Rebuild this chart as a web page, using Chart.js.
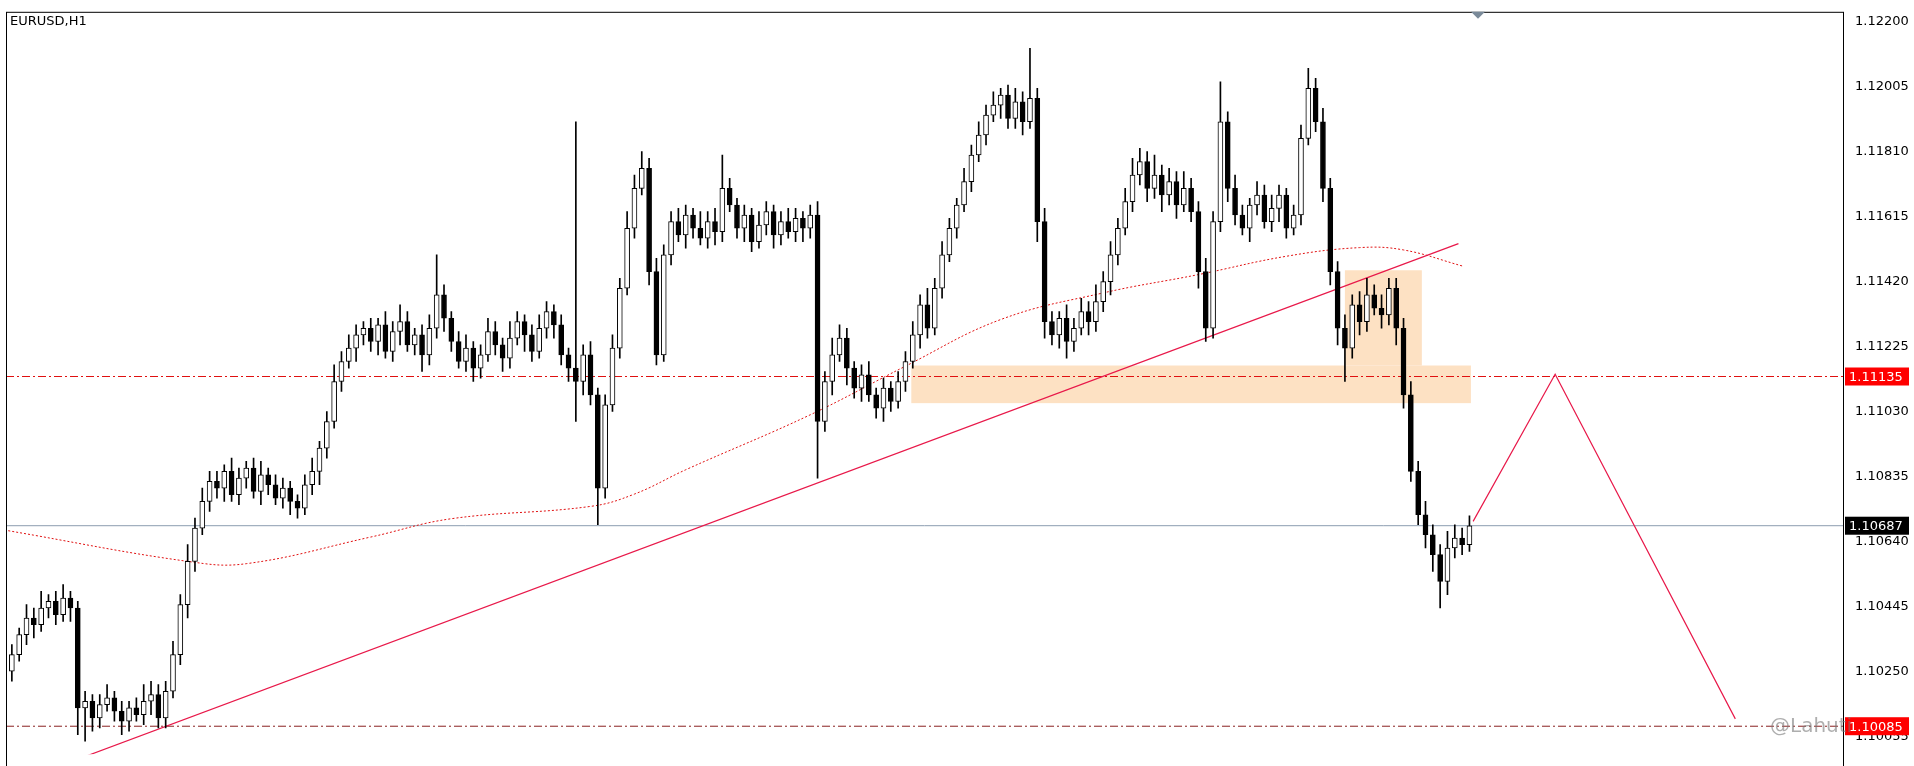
<!DOCTYPE html>
<html>
<head>
<meta charset="utf-8">
<script src="https://cdn.jsdelivr.net/npm/chart.js@4/dist/chart.umd.min.js"></script>
<style>
  html, body { margin: 0; padding: 0; background: #fff; }
  #wrap { width: 1914px; height: 766px; }
</style>
</head>
<body>
<div id="wrap"><canvas id="c"></canvas></div>
<script>
// EURUSD H1 closes, open = previous close
const firstOpen = 1.1025;
const closes = [
  1.1030,1.1036,1.1041,1.1039,1.1044,1.1046,1.1042,1.1047,1.1044,
  1.1014,1.1016,1.1011,1.1015,1.1017,1.1013,1.1010,1.1014,1.1012,1.1016,1.1018,1.1011,1.1019,
  1.1030,1.1045,1.1058,1.1068,1.1076,1.1082,
  1.1080,1.1085,1.1078,1.1083,1.1086,1.1079,1.1084,1.1081,1.1077,1.1080,1.1076,1.1074,
  1.1081,1.1085,1.1092,1.1100,1.1112,1.1118,1.1122,1.1126,1.1128,
  1.1124,1.1129,1.1121,1.1127,1.1130,1.1123,1.1126,1.1120,1.1128,1.1138,1.1131,1.1124,1.1118,1.1122,
  1.1116,1.1120,1.1127,1.1123,1.1119,1.1125,1.1130,1.1126,1.1121,1.1128,1.1133,1.1129,1.1120,1.1116,
  1.1112,
  1.1120,1.1108,1.1080,1.1105,1.1122,
  1.1140,1.1158,1.1170,1.1176,
  1.1145,1.1120,1.1150,
  1.1160,1.1156,1.1162,1.1158,1.1155,1.1160,1.1157,1.1170,1.1165,1.1158,
  1.1162,1.1154,1.1159,1.1163,1.1156,1.1160,1.1157,1.1161,1.1158,1.1162,
  1.1100,
  1.1112,1.1120,1.1125,1.1116,1.1110,1.1114,1.1108,1.1104,1.1110,1.1106,1.1112,
  1.1118,1.1126,1.1135,1.1128,1.1140,1.1150,1.1158,1.1165,1.1172,1.1180,1.1186,
  1.1192,1.1195,1.1198,1.1191,1.1196,1.1190,1.1197,
  1.1160,1.1130,
  1.1126,1.1131,1.1124,1.1128,1.1133,1.1130,1.1136,
  1.1142,1.1150,1.1158,1.1166,1.1174,
  1.1178,1.1170,1.1174,1.1168,1.1172,1.1165,1.1170,1.1163,
  1.1145,1.1128,
  1.1160,1.1190,
  1.1170,1.1162,1.1158,1.1165,1.1168,1.1160,1.1164,1.1168,1.1158,1.1162,
  1.1185,1.1200,
  1.1190,1.1170,1.1145,
  1.1128,1.1122,1.1135,1.1130,1.1138,1.1134,1.1132,1.1140,1.1128,
  1.1108,1.1085,1.1072,
  1.1066,1.1060,1.1052,1.1062,
  1.1065,1.1063,1.10687
];
// wick lengths in pips above max(open,close) and below min(open,close)
const upperWick = [
  3,2,4,3,5,2,3,4,2, 2,3,2,3,4,2,3,2,3,5,4,3,3,
  4,3,5,3,4,3, 3,2,4,3,2,3,4,2,3,3,2,2,
  3,4,2,3,5,3,4,3,2,
  3,2,4,3,5,3,2,3,4,12,3,2,3,4, 2,3,4,3,2,5,3,2,3,4,3,2,3,2,
  74,
  3,4,2,3,4,
  3,5,4,5,
  3,4,3,
  3,4,3,2,5,3,4,10,3,2, 3,2,4,3,2,3,4,3,2,3,
  4,
  3,5,4,3,2,3,4,2,3,2,3,
  3,4,3,5,3,4,3,2,4,3,4,
  3,4,2,3,4,3,15,
  3,4,
  3,2,4,3,4,3,5,
  3,4,3,4,5,
  4,3,6,3,4,3,5,3,
  3,4,
  3,12,
  3,4,3,2,4,3,4,3,2,3,
  4,6,
  3,4,3,
  3,4,3,4,5,3,4,3,3,
  3,4,3,
  4,3,3,5,
  4,3,3
];
const lowerWick = [
  3,2,3,4,2,3,3,2,4, 8,10,4,3,2,3,4,3,2,3,4,3,3,
  2,3,4,3,2,3, 3,4,2,3,3,2,4,3,2,3,4,3,
  2,3,4,3,2,3,2,4,3,
  3,4,2,3,4,2,3,5,3,3,4,3,2,3, 4,3,2,3,4,3,2,5,3,2,3,4,3,4,
  12,
  4,3,11,3,2,
  3,2,3,2,
  4,3,2,
  3,2,4,3,2,3,4,3,2,3, 4,3,2,3,4,3,2,3,4,3,
  17,
  3,4,2,5,3,4,2,3,4,3,2,
  3,2,4,3,2,3,2,3,2,3,2,
  3,2,4,3,3,4,2,
  6,5,
  3,4,5,3,2,4,3,
  3,4,3,2,3,
  3,4,3,5,3,4,2,3,
  5,4,
  3,3,
  4,3,2,4,3,2,3,4,3,2,
  3,2,
  3,4,4,
  5,10,3,4,3,2,4,3,5,
  4,3,3,
  4,5,8,4,
  3,3,2
];
const maIndex = [-0.5, 24, 32, 49, 60, 79, 85, 92, 109, 122, 135, 149, 162, 174, 184, 190, 198];
const maValues = [1.10672,1.10580,1.10573,1.10653,1.10708,1.10745,1.10782,1.10855,1.11020,1.11166,1.11306,1.11386,1.11441,1.11496,1.11522,1.11515,1.11467];
const trendIndex = [9.5, 197.5];
const trendValues = [1.09990, 1.11534];
const pathIndex = [199.5, 210.7, 235.3];
const pathValues = [1.10700, 1.11142, 1.10107];
const resistance = 1.11135;
const support = 1.10085;
const lastPrice = 1.10687;
const tickStart = 1.12200;
const tickStep = 0.00195;
const tickCount = 12;
const zones = [
  { x0: 122.8, x1: 199.2, y0: 1.11055, y1: 1.11168 },
  { x0: 182, x1: 192.5, y0: 1.11168, y1: 1.11454 }
];

const pip = 0.0001;
const opens = closes.map((c, i) => i === 0 ? firstOpen : closes[i - 1]);
const bodies = closes.map((c, i) => ({ x: i, y: [opens[i], c] }));
const wicks = closes.map((c, i) => ({
  x: i,
  y: [Math.min(opens[i], c) - lowerWick[i] * pip, Math.max(opens[i], c) + upperWick[i] * pip]
}));
const bodyColors = closes.map((c, i) => c >= opens[i] ? '#ffffff' : '#000000');
const toPts = (xs, ys) => xs.map((x, i) => ({ x, y: ys[i] }));
const XMIN = -0.8, XMAX = 250;
const hline = v => [{ x: XMIN, y: v }, { x: XMAX, y: v }];

const decor = {
  id: 'decor',
  beforeDatasetsDraw(chart) {
    const { ctx, scales: { x, y } } = chart;
    ctx.save();
    ctx.fillStyle = 'rgba(253,222,188,0.9)';
    zones.forEach(z => {
      const l = x.getPixelForValue(z.x0), r = x.getPixelForValue(z.x1);
      const t = y.getPixelForValue(z.y1), b = y.getPixelForValue(z.y0);
      ctx.fillRect(l, t, r - l, b - t);
    });
    ctx.restore();
  },
  afterDraw(chart) {
    const { ctx, chartArea: a, scales: { y } } = chart;
    ctx.save();
    ctx.strokeStyle = '#000';
    ctx.lineWidth = 1;
    ctx.strokeRect(a.left + 0.5, a.top + 0.5, a.right - a.left, chart.height);
    ctx.font = '13px "DejaVu Sans"';
    ctx.fillStyle = '#000';
    ctx.textBaseline = 'middle';
    ctx.fillText('EURUSD,H1', a.left + 4, a.top + 10);
    const tag = (v, bg) => {
      const py = y.getPixelForValue(v);
      ctx.fillStyle = bg;
      ctx.fillRect(a.right + 2, py - 9, 64, 18);
      ctx.fillStyle = '#fff';
      ctx.font = '13px "DejaVu Sans"';
      ctx.fillText(v.toFixed(5), a.right + 6, py + 1);
    };
    tag(resistance, '#ff0000');
    tag(lastPrice, '#000000');
    tag(support, '#ff0000');
    // small marker at the top
    ctx.fillStyle = '#7a8a99';
    ctx.beginPath();
    ctx.moveTo(1471, a.top); ctx.lineTo(1485, a.top); ctx.lineTo(1478, a.top + 7);
    ctx.fill();
    ctx.fillStyle = 'rgba(120,120,120,0.6)';
    ctx.font = '20px "DejaVu Sans"';
    ctx.fillText('@Lahuti', 1770, 727);
    ctx.restore();
  }
};

new Chart(document.getElementById('c'), {
  type: 'bar',
  data: {
    datasets: [
      { type: 'line', data: hline(lastPrice), borderColor: '#8c9db0', borderWidth: 1, pointRadius: 0, order: 5 },
      { type: 'line', data: hline(resistance), borderColor: '#e01010', borderWidth: 1, borderDash: [8, 3, 2, 3], pointRadius: 0, order: 5 },
      { type: 'line', data: hline(support), borderColor: '#8a2020', borderWidth: 1, borderDash: [8, 3, 2, 3], pointRadius: 0, order: 5 },
      { type: 'line', data: toPts(maIndex, maValues), borderColor: '#e01010', borderWidth: 1, borderDash: [2, 2], pointRadius: 0, tension: 0.4, order: 4 },
      { type: 'line', data: toPts(trendIndex, trendValues), borderColor: '#e8194a', borderWidth: 1.2, pointRadius: 0, order: 3 },
      { type: 'line', data: toPts(pathIndex, pathValues), borderColor: '#e8194a', borderWidth: 1.2, pointRadius: 0, order: 3 },
      { data: wicks, backgroundColor: '#000', barThickness: 1, grouped: false, order: 2 },
      { data: bodies, backgroundColor: bodyColors, borderColor: '#000', borderWidth: 1, borderSkipped: false, barThickness: 5, grouped: false, order: 1 }
    ]
  },
  options: {
    responsive: true,
    maintainAspectRatio: false,
    animation: false,
    layout: { padding: { left: 6, top: 6, bottom: 0, right: 0 } },
    plugins: { legend: { display: false }, tooltip: { enabled: false } },
    scales: {
      x: { type: 'linear', min: XMIN, max: XMAX, offset: false, display: false },
      y: {
        position: 'right', min: 1.10001, max: 1.12230,
        grid: { display: false, drawTicks: true },
        border: { display: false },
        afterBuildTicks(s) {
          const t = [];
          for (let k = 0; k < tickCount; k++) t.push({ value: tickStart - k * tickStep });
          s.ticks = t;
        },
        afterFit(s) { s.width = 71; },
        ticks: {
          color: '#000', font: { family: 'DejaVu Sans', size: 13 }, padding: 4,
          callback: v => v.toFixed(5)
        }
      }
    }
  },
  plugins: [decor]
});
</script>
</body>
</html>
